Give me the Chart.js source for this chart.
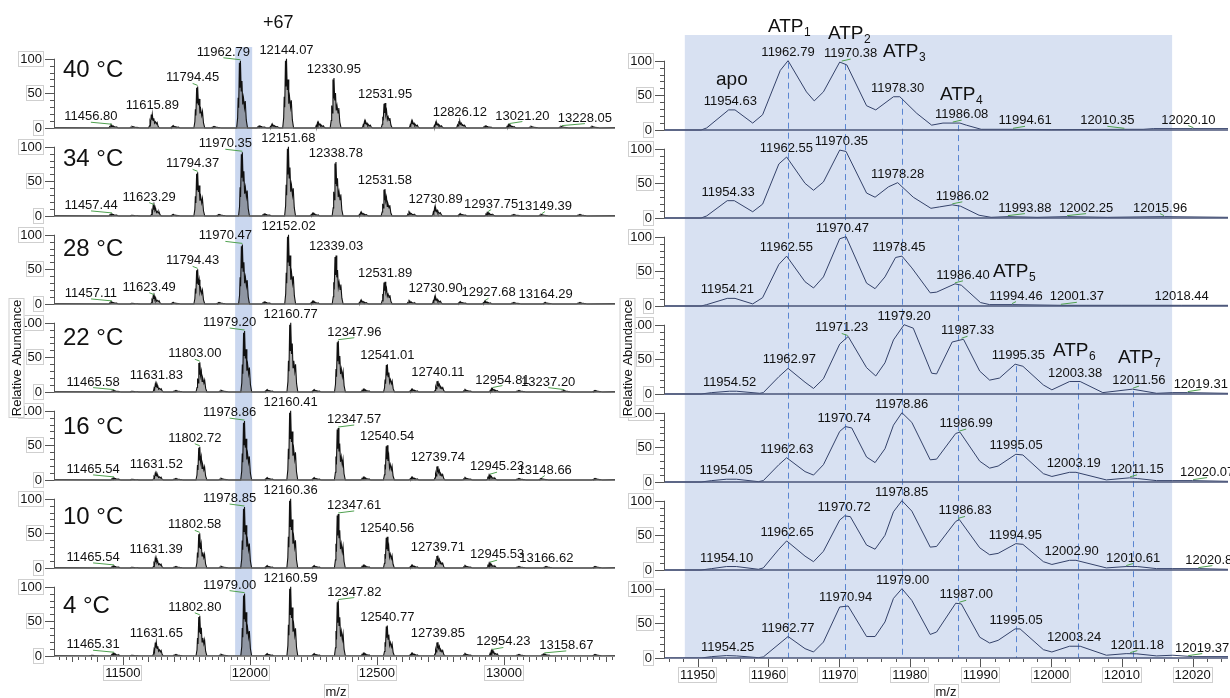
<!DOCTYPE html>
<html>
<head>
<meta charset="utf-8">
<script src="https://cdn.jsdelivr.net/npm/chart.js@4.4.1/dist/chart.umd.min.js"></script>
<style>
  html, body { margin: 0; padding: 0; background: #fff; }
  #wrap { position: relative; width: 1230px; height: 698px; overflow: hidden; }
  canvas { position: absolute; left: 0; top: 0; }
</style>
</head>
<body>
<div id="wrap">
  <canvas id="leftChart" width="1230" height="698"></canvas>
  <canvas id="rightChart" width="1230" height="698"></canvas>
</div>
<script>
// ---------- data ----------
const temps = ['40 °C', '34 °C', '28 °C', '22 °C', '16 °C', '10 °C', '4 °C'];

// left column: labelled peaks [m/z, relative abundance]
const leftPeaks = [
  [[11456.80, 4], [11615.89, 20], [11794.45, 60], [11962.79, 97], [12144.07, 100], [12330.95, 72], [12531.95, 36], [12826.12, 10], [13021.20, 5], [13228.05, 2]],
  [[11457.44, 3], [11623.29, 15], [11794.37, 63], [11970.35, 92], [12151.68, 100], [12338.78, 78], [12531.58, 39], [12730.89, 12], [12937.75, 5], [13149.39, 2]],
  [[11457.11, 3], [11623.49, 12], [11794.43, 50], [11970.47, 86], [12152.02, 100], [12339.03, 70], [12531.89, 32], [12730.90, 10], [12927.68, 4], [13164.29, 2]],
  [[11465.58, 2], [11631.83, 12], [11803.00, 43], [11979.20, 88], [12160.77, 100], [12347.96, 74], [12541.01, 40], [12740.11, 16], [12954.81, 5], [13237.20, 2]],
  [[11465.54, 3], [11631.52, 10], [11802.72, 48], [11978.86, 85], [12160.41, 100], [12347.57, 75], [12540.54, 50], [12739.74, 20], [12945.23, 7], [13148.66, 2]],
  [[11465.54, 3], [11631.39, 14], [11802.58, 50], [11978.85, 88], [12160.36, 100], [12347.61, 78], [12540.56, 45], [12739.71, 18], [12945.53, 7], [13166.62, 2]],
  [[11465.31, 4], [11631.65, 20], [11802.80, 58], [11979.00, 90], [12160.59, 100], [12347.82, 80], [12540.77, 44], [12739.85, 20], [12954.23, 8], [13158.67, 3]]
];

// left column: small unlabelled bumps [m/z, relative abundance]
const leftMinor = [
  [[11540, 2], [11700, 3], [11860, 2], [12040, 3], [12090, 5], [12270, 8], [12455, 10], [12640, 10], [12735, 8], [12930, 3], [13110, 2], [13350, 2]],
  [[11540, 1], [11700, 2], [11880, 2], [12060, 3], [12250, 4], [12440, 5], [12630, 5], [12830, 3], [13040, 2], [13300, 2]],
  [[11540, 1], [11700, 2], [11880, 2], [12060, 3], [12250, 4], [12440, 5], [12630, 4], [12830, 3], [13040, 2], [13300, 2]],
  [[11540, 1], [11710, 2], [11890, 2], [12070, 3], [12255, 3], [12450, 4], [12640, 4], [12850, 3], [13060, 2], [13360, 2]],
  [[11540, 1], [11710, 2], [11890, 2], [12070, 3], [12255, 3], [12450, 4], [12640, 4], [12850, 3], [13060, 2], [13360, 2]],
  [[11540, 1], [11710, 2], [11890, 2], [12070, 3], [12255, 3], [12450, 4], [12640, 4], [12850, 3], [13060, 2], [13360, 2]],
  [[11380, 1], [11540, 1], [11710, 2], [11890, 2], [12070, 3], [12255, 3], [12450, 4], [12640, 4], [12850, 3], [13060, 2], [13360, 2]]
];

// adduct cluster shape of one charge-state peak [m/z offset, fraction of apex]
const envelope = [[-15, 0], [-11, 0.15], [-9, 0.45], [-7, 0.3], [-4, 0.97], [-2, 0.6], [0, 1.0], [3, 0.55], [6, 0.7], [9, 0.35], [12, 0.45], [16, 0.3], [19, 0.4], [23, 0.12], [28, 0]];

// right column: deconvoluted traces [m/z, relative abundance]
const rightTraces = [
  [[11945.4, 0], [11950.5, 0], [11951.3, 3], [11954.4, 29], [11955.3, 29], [11957.8, 10], [11959.2, 22], [11961.7, 86], [11962.8, 100], [11965.4, 55], [11966.5, 42], [11967.8, 55], [11970.1, 98], [11971.1, 94], [11973.9, 35], [11975.2, 29], [11977.7, 48], [11978.6, 48], [11981, 24], [11983.1, 7], [11984.7, 10], [11987.1, 10], [11988, 7], [11990.1, 1], [11994.6, 1], [12000, 0.5], [12010.4, 1], [12013, 1], [12014.5, 2], [12020, 2], [12025, 2]],
  [[11945.4, 0], [11950.5, 0], [11951.3, 3], [11954.2, 25], [11955.2, 25], [11957.8, 9], [11959.2, 20], [11961.5, 78], [11962.6, 88], [11965.2, 50], [11966.4, 40], [11967.8, 52], [11970.1, 98], [11971.0, 96], [11973.9, 36], [11975.1, 30], [11977.0, 45], [11978.3, 51], [11980.5, 30], [11983.0, 14], [11984.2, 16], [11986.0, 19], [11987.2, 17], [11989.8, 4], [11991.5, 1], [11993.9, 2], [11998, 1], [12002.3, 2], [12008, 1], [12016, 2], [12025, 1]],
  [[11945.4, 0], [11950.5, 0], [11951.3, 2], [11954.2, 11], [11955.3, 11], [11957.8, 3], [11959.2, 12], [11961.5, 60], [11962.6, 72], [11965.2, 35], [11966.4, 26], [11967.8, 42], [11970.1, 97], [11971.0, 100], [11973.9, 33], [11975.1, 25], [11976.5, 42], [11978.0, 70], [11978.9, 72], [11980.3, 55], [11982.9, 19], [11983.8, 20], [11986.4, 32], [11987.3, 30], [11990.0, 5], [11991.3, 2], [11994.5, 2], [12001.4, 1], [12010, 1], [12018.4, 1], [12025, 1]],
  [[11945.4, 0], [11950.5, 0], [11952, 2], [11954.5, 4], [11955.5, 4], [11958.8, 1], [11959.3, 2], [11961.5, 25], [11962.8, 37], [11965.2, 17], [11966.4, 8], [11967.8, 22], [11970.1, 72], [11971.3, 83], [11973.9, 38], [11975.2, 26], [11976.5, 45], [11977.7, 78], [11979.2, 100], [11980.5, 95], [11983.1, 30], [11983.8, 29], [11986.0, 75], [11987.6, 79], [11989.9, 33], [11991.3, 20], [11992.7, 23], [11994.9, 43], [11996.0, 40], [11998.9, 13], [12000.1, 6], [12002.6, 18], [12004.1, 18], [12007.3, 2], [12011.5, 7], [12014.9, 1], [12017.2, 2], [12019.3, 2], [12025, 1]],
  [[11945.4, 0], [11950.5, 0], [11952, 2], [11954.1, 4], [11955.5, 4], [11958.6, 0.5], [11959.3, 2], [11961.5, 25], [11962.6, 35], [11965.2, 15], [11966.4, 10], [11967.8, 25], [11970.1, 73], [11970.9, 80], [11971.8, 78], [11973.9, 36], [11975.1, 28], [11976.5, 48], [11977.7, 82], [11978.9, 100], [11980.3, 86], [11982.9, 32], [11983.8, 33], [11986.5, 70], [11987.1, 72], [11989.9, 30], [11991.3, 20], [11992.5, 23], [11995.0, 40], [11996, 39], [11998.9, 12], [12000.1, 8], [12002.6, 14], [12003.5, 14], [12007.8, 3], [12011.1, 6], [12012.2, 5], [12014.9, 2], [12017.2, 2], [12020, 2], [12025, 1]],
  [[11945.4, 0], [11950.5, 0], [11952, 2], [11954.1, 5], [11955.5, 5], [11958.6, 1], [11959.3, 3], [11961.5, 30], [11962.6, 42], [11965.2, 20], [11966.4, 12], [11967.8, 27], [11970.1, 72], [11970.8, 78], [11971.6, 77], [11973.9, 36], [11975.1, 30], [11976.5, 50], [11977.7, 84], [11978.9, 100], [11980.3, 85], [11982.9, 33], [11983.8, 34], [11986.5, 70], [11987.0, 73], [11989.9, 32], [11991.3, 22], [11992.5, 24], [11995.0, 38], [11996, 37], [11998.9, 12], [12000.1, 8], [12002.6, 14], [12003.5, 14], [12007.8, 3], [12010.6, 5], [12012.2, 5], [12014.9, 2], [12017.2, 2], [12021, 2], [12025, 1]],
  [[11945.4, 0], [11950.5, 0], [11952, 2], [11954.1, 3.5], [11955.5, 3], [11958.6, 0.5], [11959.3, 1.5], [11962.8, 31], [11965.2, 13.5], [11966.4, 8.7], [11967.8, 23], [11970.1, 73.6], [11971.3, 75], [11973.9, 31], [11975.1, 31], [11976.5, 52], [11977.7, 86], [11978.9, 100], [11980.3, 83], [11982.9, 34], [11983.8, 37.5], [11986.5, 79], [11987.3, 78], [11989.9, 30], [11991.3, 21.6], [11992.5, 25.5], [11994.9, 42], [11995.6, 42], [11998.9, 12], [12000.1, 8.7], [12002.6, 17], [12004.1, 17], [12007.8, 4], [12010.6, 6.3], [12012.1, 6], [12014.9, 3], [12017.2, 4], [12020, 2], [12025, 2]]
];

const rightLabels = [
  ['11954.63', '11962.79', '11970.38', '11978.30', '11986.08', '11994.61', '12010.35', '12020.10'],
  ['11954.33', '11962.55', '11970.35', '11978.28', '11986.02', '11993.88', '12002.25', '12015.96'],
  ['11954.21', '11962.55', '11970.47', '11978.45', '11986.40', '11994.46', '12001.37', '12018.44'],
  ['11954.52', '11962.97', '11971.23', '11979.20', '11987.33', '11995.35', '12003.38', '12011.56', '12019.31'],
  ['11954.05', '11962.63', '11970.74', '11978.86', '11986.99', '11995.05', '12003.19', '12011.15', '12020.07'],
  ['11954.10', '11962.65', '11970.72', '11978.85', '11986.83', '11994.95', '12002.90', '12010.61', '12020.81'],
  ['11954.25', '11962.77', '11970.94', '11979.00', '11987.00', '11995.05', '12003.24', '12011.18', '12019.37']
];

const leftTicks = [11500, 12000, 12500, 13000];
const rightTicks = [11950, 11960, 11970, 11980, 11990, 12000, 12010, 12020];
const atpMz = [11962.8, 11970.9, 11978.85, 11986.8, 11995.0, 12003.8, 12011.6];
const atpFromPanel = [0, 0, 0, 0, 3, 3, 3];

// ---------- layout ----------
const FONT = '"Liberation Sans", Arial, sans-serif';
const PANEL_H = 88;
const PX_PER_PCT = 0.693;
const RANGE = PANEL_H / PX_PER_PCT;

// label nudges (px) where the instrument software moved a label off its peak
const leftShift = [
  [-21, 0, -5, -17, 0, 0, 0, 0, 13, 23],
  [-21, -5, -5, -17, 0, 0, 0, 0, 3, 3],
  [-21, -5, -5, -17, 0, 0, 0, 0, 3, 0],
  [-21, 0, -5, -15, 0, 16, 0, 0, 10, -16],
  [-21, 0, -5, -15, 0, 16, 0, 0, 7, 3],
  [-21, 0, -5, -15, 0, 16, 0, 0, 7, 0],
  [-21, 0, -5, -15, 0, 16, 0, 0, 11, 22]
];
const rightShift = [
  [0, 0, 9, 0, 9, 12, -17, -5],
  [0, 0, 0, 0, 10, 17, 19, -4],
  [0, 0, 0, 0, 8, 4, 16, 0],
  [0, 0, -6, 0, 6, 0, 0, 6, 13],
  [0, 0, 0, 0, 7, 0, 0, 7, 14],
  [0, 0, 0, 0, 7, 0, 0, 7, 14],
  [0, 0, 0, 0, 7, 0, 0, 7, 14]
];
const atpPos = [[768, 32], [828, 39], [883, 57], [940, 100], [993, 277], [1053, 356], [1118, 363]];

function panelScales(xmin, xmax) {
  const s = { x: { type: 'linear', min: xmin, max: xmax, display: false } };
  for (let i = 0; i < 7; i++) {
    s['y' + i] = { type: 'linear', display: false, min: -(6 - i) * RANGE, max: (i + 1) * RANGE };
  }
  return s;
}

function clusterTrace(peaks, minor) {
  const pts = [];
  for (const [mz, h] of peaks.concat(minor)) {
    for (const [dx, r] of envelope) pts.push({ x: mz + dx, y: h * r });
  }
  pts.sort((a, b) => a.x - b.x);
  return [{ x: 11233, y: 0.5 }].concat(pts, [{ x: 13437, y: 0.5 }]);
}

function boxText(ctx, text, x, y, align, size) {
  ctx.font = `${size || 13}px ${FONT}`;
  const w = ctx.measureText(text).width;
  const left = align === 'right' ? x - w : align === 'center' ? x - w / 2 : x;
  ctx.fillStyle = '#fff';
  ctx.fillRect(left - 2, y - 8, w + 4, 16);
  ctx.strokeStyle = '#cfcfcf';
  ctx.lineWidth = 1;
  ctx.strokeRect(Math.round(left - 2) + 0.5, Math.round(y - 8) + 0.5, Math.round(w + 3), 15);
  ctx.fillStyle = '#111';
  ctx.textAlign = 'left';
  ctx.textBaseline = 'middle';
  ctx.fillText(text, left, y + 0.5);
}

function peakLabel(ctx, text, x, baseY, peakX) {
  if (Math.abs(x - peakX) > 2) {
    ctx.strokeStyle = '#4fa04f';
    ctx.lineWidth = 1;
    ctx.beginPath();
    ctx.moveTo(x, baseY + 2);
    ctx.lineTo(peakX, baseY + 4);
    ctx.stroke();
  }
  ctx.font = `13px ${FONT}`;
  ctx.fillStyle = '#111';
  ctx.textAlign = 'center';
  ctx.textBaseline = 'alphabetic';
  ctx.fillText(text, x, baseY);
}

function drawYAxes(chart, axisX, baseColor) {
  const ctx = chart.ctx;
  const area = chart.chartArea;
  for (let i = 0; i < 7; i++) {
    const ys = chart.scales['y' + i];
    const y0 = ys.getPixelForValue(0);
    const y100 = ys.getPixelForValue(100);
    ctx.strokeStyle = baseColor;
    ctx.lineWidth = 1.5;
    ctx.beginPath();
    ctx.moveTo(axisX, y0);
    ctx.lineTo(area.right, y0);
    ctx.stroke();
    ctx.strokeStyle = '#555';
    ctx.lineWidth = 1;
    ctx.beginPath();
    ctx.moveTo(axisX + 0.5, y0);
    ctx.lineTo(axisX + 0.5, y100);
    for (let v = 0; v <= 100; v += 10) {
      const y = Math.round(ys.getPixelForValue(v)) + 0.5;
      ctx.moveTo(axisX + 0.5, y);
      ctx.lineTo(axisX - (v % 50 === 0 ? 9 : 4), y);
    }
    ctx.stroke();
    [0, 50, 100].forEach(v => boxText(ctx, String(v), axisX - 12, ys.getPixelForValue(v), 'right'));
  }
}

function drawXAxis(chart, ticks, minorStep, midStep, axisX, titleX) {
  const ctx = chart.ctx;
  const xs = chart.scales.x;
  const y0 = chart.scales.y6.getPixelForValue(0);
  ctx.strokeStyle = '#555';
  ctx.lineWidth = 1;
  ctx.beginPath();
  const start = Math.ceil(xs.min / minorStep) * minorStep;
  for (let v = start; v <= xs.max; v += minorStep) {
    const x = Math.round(xs.getPixelForValue(v)) + 0.5;
    if (x < axisX) continue;
    const major = ticks.includes(Math.round(v));
    const mid = Math.round(v) % midStep === 0;
    ctx.moveTo(x, y0 + 1);
    ctx.lineTo(x, y0 + (major ? 9 : mid ? 6 : 4));
  }
  ctx.stroke();
  ticks.forEach(t => boxText(ctx, String(t), xs.getPixelForValue(t), y0 + 17, 'center'));
  boxText(ctx, 'm/z', titleX, 692, 'center');
}

function drawVerticalTitle(ctx, x, y) {
  ctx.save();
  ctx.translate(x, y);
  ctx.rotate(-Math.PI / 2);
  boxText(ctx, 'Relative Abundance', 0, 0, 'center');
  ctx.restore();
}

function subText(ctx, main, sub, x, base) {
  ctx.fillStyle = '#111';
  ctx.textAlign = 'left';
  ctx.textBaseline = 'alphabetic';
  ctx.font = `19px ${FONT}`;
  ctx.fillText(main, x, base);
  const w = ctx.measureText(main).width;
  ctx.font = `12px ${FONT}`;
  ctx.fillText(sub, x + w + 0.5, base + 4);
}

// ---------- left column ----------
const leftDecor = {
  id: 'leftDecor',
  beforeDatasetsDraw(chart) {
    const ctx = chart.ctx;
    const xs = chart.scales.x;
    const x1 = xs.getPixelForValue(11942), x2 = xs.getPixelForValue(12009);
    ctx.fillStyle = '#cad7ef';
    ctx.fillRect(x1, 47, x2 - x1, chart.scales.y6.getPixelForValue(0) - 47);
  },
  afterDatasetsDraw(chart) {
    const ctx = chart.ctx;
    const xs = chart.scales.x;
    drawYAxes(chart, 54, '#666');
    drawXAxis(chart, leftTicks, 25, 100, 54, 336);
    drawVerticalTitle(ctx, 16.5, 358);
    leftPeaks.forEach((peaks, i) => {
      const ys = chart.scales['y' + i];
      peaks.forEach(([mz, h], j) => {
        const px = xs.getPixelForValue(mz);
        peakLabel(ctx, mz.toFixed(2), px + leftShift[i][j], ys.getPixelForValue(h) - 5, px);
      });
      ctx.font = `24px ${FONT}`;
      ctx.fillStyle = '#111';
      ctx.textAlign = 'left';
      ctx.textBaseline = 'alphabetic';
      ctx.fillText(temps[i], 63, 77 + 89.3 * i);
    });
    ctx.font = `18px ${FONT}`;
    ctx.textAlign = 'center';
    ctx.fillText('+67', xs.getPixelForValue(12112), 28);
  }
};

new Chart(document.getElementById('leftChart'), {
  type: 'line',
  data: {
    datasets: leftPeaks.map((p, i) => ({
      data: clusterTrace(p, leftMinor[i]),
      yAxisID: 'y' + i,
      borderColor: '#111',
      backgroundColor: 'rgba(70,70,70,0.45)',
      borderWidth: 1.1,
      pointRadius: 0,
      tension: 0,
      fill: 'origin'
    }))
  },
  options: {
    responsive: false,
    animation: false,
    layout: { padding: { left: 55, right: 615, top: 40, bottom: 42 } },
    scales: panelScales(11233, 13437),
    plugins: { legend: { display: false }, tooltip: { enabled: false } }
  },
  plugins: [leftDecor]
});

// ---------- right column ----------
function traceTop(trace, mz) {
  let m = 0;
  trace.forEach(([x, y]) => { if (Math.abs(x - mz) <= 1.3 && y > m) m = y; });
  return m;
}

const rightDecor = {
  id: 'rightDecor',
  beforeDatasetsDraw(chart) {
    const ctx = chart.ctx;
    const xs = chart.scales.x;
    const bottom = chart.scales.y6.getPixelForValue(0);
    const x1 = xs.getPixelForValue(11948.2), x2 = xs.getPixelForValue(12017.1);
    ctx.fillStyle = '#d8e1f2';
    ctx.fillRect(x1, 35, x2 - x1, bottom - 35);
    ctx.save();
    ctx.setLineDash([6, 4]);
    ctx.strokeStyle = '#5a86d2';
    ctx.lineWidth = 1;
    atpMz.forEach((mz, k) => {
      const p = atpFromPanel[k];
      const top = chart.scales['y' + p].getPixelForValue(traceTop(rightTraces[p], mz));
      const x = Math.round(xs.getPixelForValue(mz)) + 0.5;
      ctx.beginPath();
      ctx.moveTo(x, top + 2);
      ctx.lineTo(x, bottom);
      ctx.stroke();
    });
    ctx.restore();
  },
  afterDatasetsDraw(chart) {
    const ctx = chart.ctx;
    const xs = chart.scales.x;
    drawYAxes(chart, 664, '#4a5578');
    drawXAxis(chart, rightTicks, 2, 10, 664, 946);
    drawVerticalTitle(ctx, 627.5, 358);
    rightLabels.forEach((labels, i) => {
      const ys = chart.scales['y' + i];
      labels.forEach((t, j) => {
        const mz = parseFloat(t);
        const px = xs.getPixelForValue(mz);
        const top = traceTop(rightTraces[i], mz);
        peakLabel(ctx, t, px + rightShift[i][j], ys.getPixelForValue(top) - 5, px);
      });
    });
    atpPos.forEach(([x, y], k) => subText(ctx, 'ATP', String(k + 1), x, y));
    ctx.font = `19px ${FONT}`;
    ctx.textAlign = 'left';
    ctx.fillText('apo', 716, 85);
  }
};

new Chart(document.getElementById('rightChart'), {
  type: 'line',
  data: {
    datasets: rightTraces.map((t, i) => ({
      data: t.map(([x, y]) => ({ x, y })),
      yAxisID: 'y' + i,
      borderColor: '#34426a',
      borderWidth: 1,
      pointRadius: 0,
      tension: 0,
      fill: false
    }))
  },
  options: {
    responsive: false,
    animation: false,
    layout: { padding: { left: 665, right: 2, top: 42, bottom: 40 } },
    scales: panelScales(11945.4, 12025),
    plugins: { legend: { display: false }, tooltip: { enabled: false } }
  },
  plugins: [rightDecor]
});
</script>
</body>
</html>
